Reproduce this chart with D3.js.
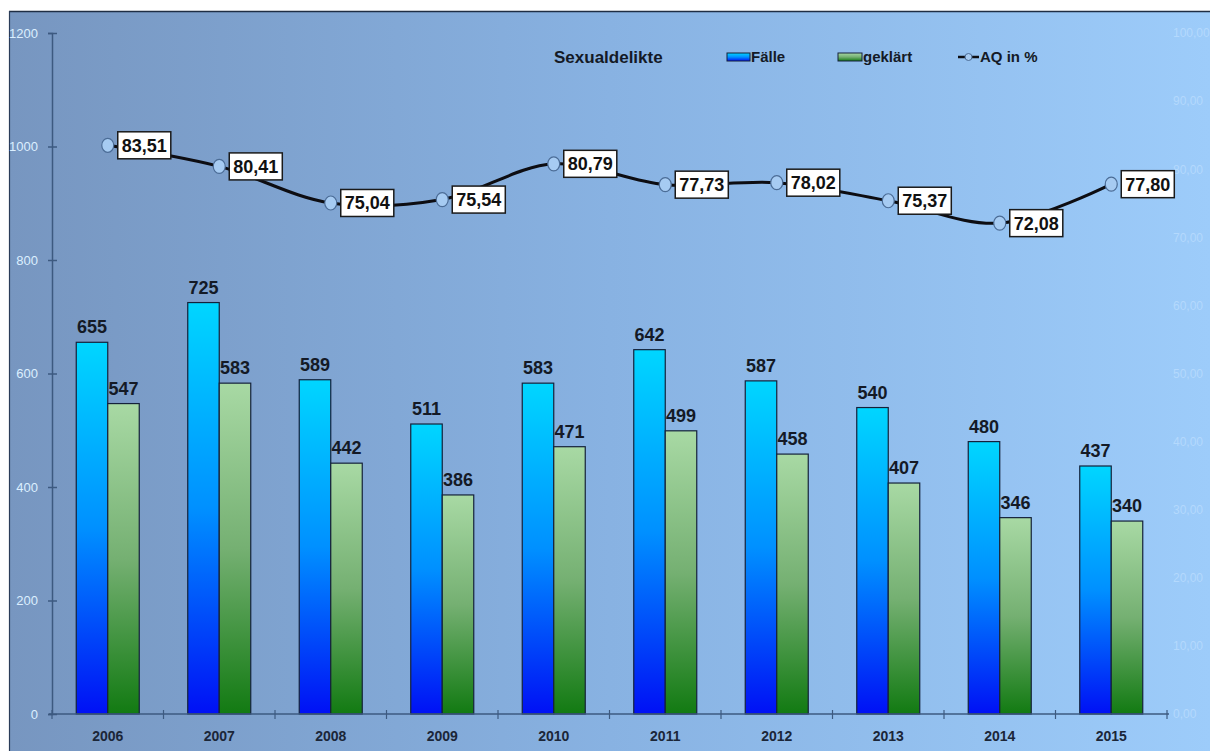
<!DOCTYPE html>
<html><head><meta charset="utf-8">
<script src="https://cdn.jsdelivr.net/npm/d3@7"></script>
<style>html,body{margin:0;padding:0;background:#fff;}svg{display:block;font-family:"Liberation Sans",Arial,sans-serif;}</style>
</head><body>
<svg id="c" width="1210" height="751"></svg>
<script>
const years = ["2006","2007","2008","2009","2010","2011","2012","2013","2014","2015"];
const faelle = [655,725,589,511,583,642,587,540,480,437];
const geklaert = [547,583,442,386,471,499,458,407,346,340];
const aq = [83.51,80.41,75.04,75.54,80.79,77.73,78.02,75.37,72.08,77.80];
const leftTicks = [0,200,400,600,800,1000,1200];
const rightTicks = [0,10,20,30,40,50,60,70,80,90,100];
const title = "Sexualdelikte";
const legendLabels = ["Fälle","geklärt","AQ in %"];

const svg = d3.select("#c");
const defs = svg.append("defs");
const bg = defs.append("linearGradient").attr("id","bg").attr("x1","0").attr("x2","1").attr("y1","0").attr("y2","0");
bg.append("stop").attr("offset","0").attr("stop-color","#7796c0");
bg.append("stop").attr("offset","0.5").attr("stop-color","#88b2e2");
bg.append("stop").attr("offset","1").attr("stop-color","#9dccfa");
const gb = defs.append("linearGradient").attr("id","gBlue").attr("x1","0").attr("x2","0").attr("y1","0").attr("y2","1");
gb.append("stop").attr("offset","0").attr("stop-color","#00d6ff");
gb.append("stop").attr("offset","0.5").attr("stop-color","#0090ff");
gb.append("stop").attr("offset","1").attr("stop-color","#0010f5");
const gg = defs.append("linearGradient").attr("id","gGreen").attr("x1","0").attr("x2","0").attr("y1","0").attr("y2","1");
gg.append("stop").attr("offset","0").attr("stop-color","#a8d9a4");
gg.append("stop").attr("offset","0.5").attr("stop-color","#75b072");
gg.append("stop").attr("offset","1").attr("stop-color","#127a12");

// background frame
svg.append("rect").attr("x",9).attr("y",11).attr("width",1201).attr("height",740).attr("fill","url(#bg)");
svg.append("line").attr("x1",9).attr("x2",1210).attr("y1",11.5).attr("y2",11.5).attr("stroke","#1f2e44").attr("stroke-width",1.5);
svg.append("line").attr("x1",9.5).attr("x2",9.5).attr("y1",11).attr("y2",751).attr("stroke","#2a3c58").attr("stroke-width",1.2);

const x = d3.scaleBand().domain(years).range([52,1167]).padding(0);
const y = d3.scaleLinear().domain([0,1200]).range([714,33]);
const y2 = d3.scaleLinear().domain([0,100]).range([714,33]);
const bw = 31.5;
const cx = d => x(d) + x.bandwidth()/2;

// left axis
const ax = svg.append("g").attr("transform","translate(52,0)")
  .call(d3.axisLeft(y).tickValues(leftTicks).tickSize(4).tickPadding(10).tickFormat(d3.format("d")));
ax.select(".domain").attr("stroke","#3d5a80").attr("stroke-width",1.5);
ax.selectAll(".tick line").attr("x1",5).attr("x2",-4).attr("stroke","#3d5a80").attr("stroke-width",1.5);
ax.selectAll(".tick text").attr("fill","#dcefff").attr("font-size",13).attr("font-family","Liberation Sans, Arial");

// right axis (faint)
const ar = svg.append("g").attr("transform","translate(1168,0)")
  .call(d3.axisRight(y2).tickValues(rightTicks).tickSize(0).tickPadding(5).tickFormat(d => d3.format(".2f")(d).replace(".",",")));
ar.select(".domain").remove();
ar.selectAll(".tick text").attr("fill","#b4d9fd").attr("font-size",12).attr("font-family","Liberation Sans, Arial");

// bars
const g = svg.append("g");
g.selectAll("rect.f").data(years).join("rect").attr("class","f")
  .attr("x",(d)=>cx(d)-bw).attr("width",bw)
  .attr("y",(d,i)=>y(faelle[i])).attr("height",(d,i)=>y(0)-y(faelle[i]))
  .attr("fill","url(#gBlue)").attr("stroke","#14213a").attr("stroke-width",1.2);
g.selectAll("rect.k").data(years).join("rect").attr("class","k")
  .attr("x",(d)=>cx(d)).attr("width",bw)
  .attr("y",(d,i)=>y(geklaert[i])).attr("height",(d,i)=>y(0)-y(geklaert[i]))
  .attr("fill","url(#gGreen)").attr("stroke","#14213a").attr("stroke-width",1.2);

// bar value labels
g.selectAll("text.fl").data(years).join("text").attr("class","fl")
  .attr("x",d=>cx(d)-bw/2).attr("y",(d,i)=>y(faelle[i])-9)
  .attr("text-anchor","middle").attr("font-weight","bold").attr("font-size",18).attr("fill","#141a26")
  .text((d,i)=>faelle[i]);
g.selectAll("text.kl").data(years).join("text").attr("class","kl")
  .attr("x",d=>cx(d)+bw/2).attr("y",(d,i)=>y(geklaert[i])-9)
  .attr("text-anchor","middle").attr("font-weight","bold").attr("font-size",18).attr("fill","#141a26")
  .text((d,i)=>geklaert[i]);

// bottom axis
const bx = svg.append("g").attr("transform","translate(0,714)")
  .call(d3.axisBottom(x).tickSize(0).tickPadding(17));
bx.select(".domain").attr("d","M49,0H1169").attr("stroke","#3d5a80").attr("stroke-width",1.5);
bx.selectAll(".tick text").attr("fill","#1b2638").attr("font-weight","bold").attr("font-size",14);
const bounds = d3.range(years.length+1).map(i => 52 + i*x.step());
svg.append("g").selectAll("line").data(bounds).join("line")
  .attr("x1",d=>d).attr("x2",d=>d).attr("y1",710).attr("y2",719)
  .attr("stroke","#3d5a80").attr("stroke-width",1.2);

// AQ line
const line = d3.line().x((d,i)=>cx(years[i])).y(d=>y2(d)).curve(d3.curveCatmullRom.alpha(0.5));
svg.append("path").datum(aq).attr("d",line).attr("fill","none").attr("stroke","#0d0d12").attr("stroke-width",3);
svg.append("g").selectAll("ellipse").data(aq).join("ellipse")
  .attr("cx",(d,i)=>cx(years[i])).attr("cy",d=>y2(d)).attr("rx",6).attr("ry",7)
  .attr("fill","#a6cbf2").attr("stroke","#4b6c96").attr("stroke-width",1.2);

// AQ labels
const lg = svg.append("g");
aq.forEach((v,i)=>{
  const px = cx(years[i]), py = y2(v);
  const grp = lg.append("g");
  const rect = grp.append("rect");
  const t = grp.append("text").attr("font-weight","bold").attr("font-size",18).attr("fill","#111")
    .attr("x",px+14).attr("y",py+6.5).text(d3.format(".2f")(v).replace(".",","));
  const bb = t.node().getBBox();
  rect.attr("x",px+10).attr("y",py-13.5).attr("width",bb.width+8).attr("height",27)
    .attr("fill","#fff").attr("stroke","#1a1a1a").attr("stroke-width",1.5);
});

// legend
const leg = svg.append("g").attr("font-weight","bold").attr("fill","#141a26");
leg.append("text").attr("x",554).attr("y",63).attr("font-size",17).text(title);
leg.append("rect").attr("x",727).attr("y",53).attr("width",23).attr("height",8).attr("fill","url(#gBlue)").attr("stroke","#14213a").attr("stroke-width",1);
leg.append("text").attr("x",751).attr("y",62).attr("font-size",15).text(legendLabels[0]);
leg.append("rect").attr("x",838).attr("y",53).attr("width",24).attr("height",8).attr("fill","url(#gGreen)").attr("stroke","#14213a").attr("stroke-width",1);
leg.append("text").attr("x",863).attr("y",62).attr("font-size",15).text(legendLabels[1]);
leg.append("line").attr("x1",958).attr("x2",979).attr("y1",57).attr("y2",57).attr("stroke","#0d0d12").attr("stroke-width",2.5);
leg.append("circle").attr("cx",968.5).attr("cy",57).attr("r",3.5).attr("fill","#a6cbf2").attr("stroke","#4b6c96").attr("stroke-width",1);
leg.append("text").attr("x",980).attr("y",62).attr("font-size",15).text(legendLabels[2]);
</script>
</body></html>
